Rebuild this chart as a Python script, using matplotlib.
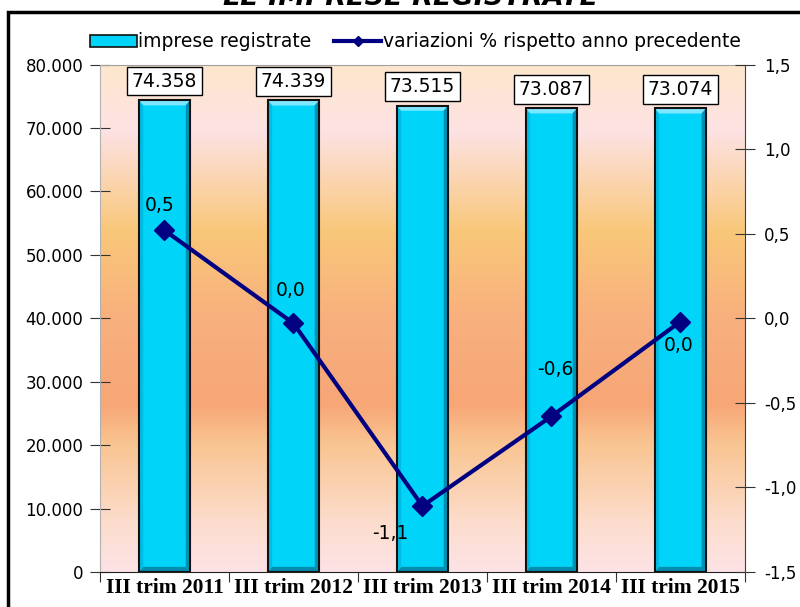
import matplotlib
matplotlib.use("Agg")
import matplotlib.pyplot as plt
import numpy as np
from matplotlib.colors import LinearSegmentedColormap
from matplotlib.patches import Polygon, Rectangle
from matplotlib.lines import Line2D
from matplotlib.patches import Patch

categorie = ["III trim 2011", "III trim 2012", "III trim 2013", "III trim 2014", "III trim 2015"]
imprese = [74358, 74339, 73515, 73087, 73074]
variazioni = [0.52, -0.03, -1.11, -0.58, -0.02]

# offset (pixel) delle etichette della linea rispetto ai punti
offs_lin = [(-5, 25), (-3, 33), (-32, -27), (4, 47), (-2, -24)]

ciano = "#00D4F8"
blu = "#000080"

fig = plt.figure(figsize=(8, 6.07), dpi=100)
ax = fig.add_axes([0.125, 0.0577, 0.806, 0.836])

# sfondo sfumato dell'area del grafico
sfondo = LinearSegmentedColormap.from_list("sfondo", [
    (0.00, "#FDE3E6"), (0.10, "#FCDCCB"), (0.25, "#F9C592"), (0.33, "#F7A676"),
    (0.50, "#F8B07E"), (0.67, "#F9C779"), (0.87, "#FDE2E4"), (1.00, "#FDE7CC")])
grad = np.linspace(0, 1, 256).reshape(-1, 1)
ax.imshow(grad, extent=[0, 1, 0, 1], transform=ax.transAxes, aspect="auto",
          cmap=sfondo, origin="lower", zorder=0)

x = np.arange(len(categorie))
bw = 0.4
ax.bar(x, imprese, width=bw, color=ciano, linewidth=0, zorder=3)

# effetto rilievo sulle colonne
dx, dy = 0.035, 800
for xi, h in zip(x, imprese):
    x0, x1 = xi - bw / 2, xi + bw / 2
    facce = [
        ([(x0, h), (x1, h), (x1 - dx, h - dy), (x0 + dx, h - dy)], "#7FE6FF"),
        ([(x1, h), (x1, 0), (x1 - dx, dy), (x1 - dx, h - dy)], "#0090B2"),
        ([(x0, 0), (x1, 0), (x1 - dx, dy), (x0 + dx, dy)], "#008CAC"),
        ([(x0, 0), (x0, h), (x0 + dx, h - dy), (x0 + dx, dy)], "#00BCE4"),
    ]
    for pts, c in facce:
        ax.add_patch(Polygon(pts, closed=True, fc=c, ec="none", zorder=3.5))
ax.bar(x, imprese, width=bw, fill=False, edgecolor="#111111", linewidth=1.5, zorder=4)

for xi, v in zip(x, imprese):
    ax.annotate(f"{v:,}".replace(",", "."), (xi, v), xytext=(0, 19),
                textcoords="offset pixels", ha="center", va="center", fontsize=13.5,
                bbox=dict(boxstyle="square,pad=0.25", fc="white", ec="black", lw=1),
                zorder=5)

ax.set_xlim(-0.5, 4.5)
ax.set_ylim(0, 80000)
yt = np.arange(0, 80001, 10000)
ax.set_yticks(yt)
ax.set_yticklabels([f"{v:,}".replace(",", ".") for v in yt], fontsize=12)
ax.tick_params(axis="y", direction="inout", length=14, pad=5, color="#333333")

ax.set_xticks(np.arange(-0.5, 5, 1))
ax.set_xticklabels([])
ax.set_xticks(x, minor=True)
ax.set_xticklabels(categorie, minor=True, fontsize=15.5, fontweight="bold",
                   family="Liberation Serif")
ax.tick_params(axis="x", which="major", direction="out", length=7, color="#333333")
ax.tick_params(axis="x", which="minor", length=0, pad=4)

ax.spines["left"].set_color("#B0B0B0")
ax.spines["top"].set_color("#A0A0A0")
ax.spines["right"].set_visible(False)
ax.spines["bottom"].set_color("#222222")

ax2 = ax.twinx()
ax2.plot(x, variazioni, color=blu, lw=3, marker="D", markersize=10, zorder=6)
for xi, v, (ox, oy) in zip(x, variazioni, offs_lin):
    testo = f"{round(v, 1) + 0.0:.1f}".replace(".", ",")
    ax2.annotate(testo, (xi, v), xytext=(ox, oy), textcoords="offset pixels",
                 ha="center", va="center", fontsize=13.5, zorder=7)

ax2.set_ylim(-1.5, 1.5)
yt2 = np.arange(-1.5, 1.51, 0.5)
ax2.set_yticks(yt2)
ax2.set_yticklabels([f"{v:.1f}".replace(".", ",") for v in yt2], fontsize=12)
ax2.tick_params(axis="y", direction="inout", length=14, pad=7, color="#333333")
ax2.spines["right"].set_color("#404040")
for s in ["left", "top", "bottom"]:
    ax2.spines[s].set_visible(False)

# legenda in alto
maniglie = [Patch(fc=ciano, ec="#111111", lw=1.2),
            Line2D([], [], color=blu, lw=3, marker="D", markersize=5)]
fig.legend(maniglie, ["imprese registrate", "variazioni % rispetto anno precedente"],
           loc="center", bbox_to_anchor=(0.519, 0.931), ncol=2, frameon=False,
           fontsize=13.5, handlelength=2.5, handletextpad=0.1, columnspacing=1.2,
           handleheight=0.6)

# titolo (tagliato dal bordo superiore) e cornice esterna
fig.text(0.513, 1 - 5 / 607, "LE IMPRESE REGISTRATE", fontsize=19.5,
         fontweight="bold", style="italic", ha="center", va="baseline")
fig.patches.append(Rectangle((0.01, -0.1), 1.2, 1 - 12 / 607 + 0.1, fill=False,
                             ec="black", lw=2.5, transform=fig.transFigure))

fig.savefig("out.png", dpi=100)
